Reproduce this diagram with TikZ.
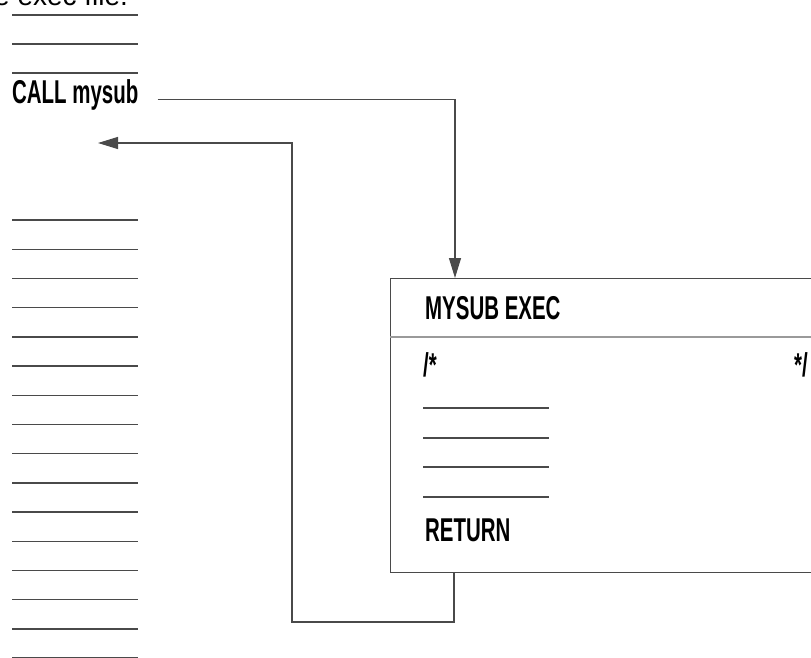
\documentclass[tikz,border=0pt]{standalone}
\usepackage{fontspec}
\usetikzlibrary{arrows.meta,positioning}
\newfontfamily\labelfont{Liberation Sans}
\definecolor{linegray}{HTML}{4A4A4A}
\definecolor{rulegray}{HTML}{9A9A9A}
\newcommand{\cond}[1]{\scalebox{0.62}[1]{#1}}

\begin{document}
\begin{tikzpicture}[x=1pt,y=-1pt,>={Triangle[length=20pt,width=12pt]},
  code/.style={font=\labelfont\fontsize{33}{36}\selectfont\bfseries,inner sep=0pt,anchor=base west},
  rule/.style={linegray,line width=1.4pt},
  conn/.style={linegray,line width=1.2pt}]
  \useasboundingbox (0,0) rectangle (811,658);
  \clip (0,0) rectangle (811,658);
  \node[font=\labelfont\fontsize{28}{30}\selectfont,inner sep=0pt,anchor=base west] (intro) at (-6,5.5) {e exec file.};
  \foreach \y in {15,44,73}{\draw[rule] (12,\y) -- (138,\y);}
  \foreach \k in {0,...,15}{\draw[rule] (12,{220+29.2*\k}) -- (138,{220+29.2*\k});}
  \node[code] (call) at (12,104) {\cond{CALL mysub}};
  \node[draw=linegray,line width=1.4pt,minimum width=450pt,minimum height=294pt,anchor=north west,inner sep=0pt] (box) at (390,278) {};
  \draw[rulegray,line width=2.5pt] ([yshift=-59pt]box.north west) -- ([yshift=-59pt]box.north east);
  \node[code] (title) at (425,319) {\cond{MYSUB EXEC}};
  \node[code] (open) at (423,376) {\cond{/*}};
  \node[code,anchor=base east] (close) at (808,376) {\cond{*/}};
  \foreach \y in {408,438,467,497}{\draw[rule] (423,\y) -- (549,\y);}
  \node[code] (ret) at (425,541) {\cond{RETURN}};
  \coordinate (bend) at (292,622);
  \coordinate (back) at (98,143);
  \draw[conn,->] ([xshift=19pt,yshift=-4pt]call.east) -| ([xshift=65pt]box.north west);
  \draw[conn,->] ([xshift=64pt]box.south west) |- (bend) |- (back);
\end{tikzpicture}
\end{document}
